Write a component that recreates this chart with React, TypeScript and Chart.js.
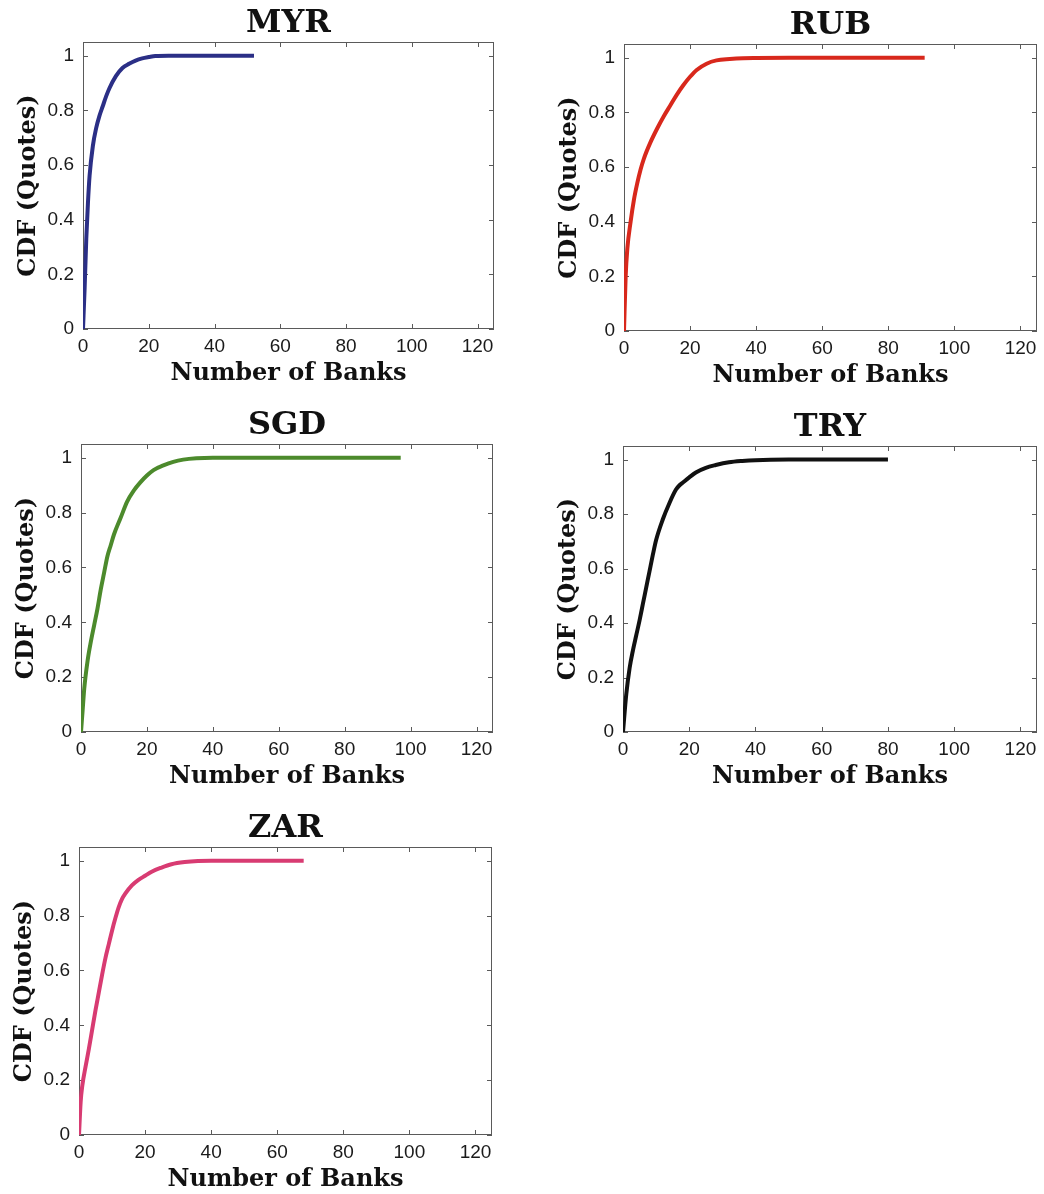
import React, { useEffect, useRef } from "react";
import { Chart, registerables } from "chart.js";

Chart.register(...registerables);

// ---------- data ----------
const X_TICKS = [0, 20, 40, 60, 80, 100, 120];
const X_TICK_LABELS = ["0", "20", "40", "60", "80", "100", "120"];
const Y_TICKS = [0, 0.2, 0.4, 0.6, 0.8, 1];
const Y_TICK_LABELS = ["0", "0.2", "0.4", "0.6", "0.8", "1"];
const X_MAX = 125;
const Y_MAX = 1.05;

const X_LABEL = "Number of Banks";
const Y_LABEL = "CDF (Quotes)";

const MYR_X = [0, 0.5, 1, 1.5, 2, 3, 4, 5, 6, 7, 8, 10, 12, 14, 16, 18, 20, 22, 26, 30, 40, 52];
const MYR_Y = [0, 0.15, 0.33, 0.46, 0.56, 0.67, 0.735, 0.78, 0.815, 0.85, 0.88, 0.925, 0.955, 0.97, 0.982, 0.99, 0.995, 0.999, 1, 1, 1, 1];

const RUB_X = [0, 0.5, 1, 2, 3, 4, 5, 6, 8, 10, 12, 14, 16, 18, 20, 22, 25, 28, 32, 36, 40, 50, 60, 70, 80, 91];
const RUB_Y = [0, 0.2, 0.3, 0.4, 0.48, 0.54, 0.59, 0.63, 0.69, 0.74, 0.785, 0.825, 0.865, 0.9, 0.93, 0.955, 0.978, 0.99, 0.995, 0.998, 0.999, 1, 1, 1, 1, 1];

const SGD_X = [0, 0.5, 1, 2, 3, 4, 5, 6, 7, 8, 9, 10, 12, 14, 16, 18, 20, 22, 25, 28, 31, 35, 40, 50, 60, 70, 80, 97];
const SGD_Y = [0, 0.08, 0.16, 0.26, 0.33, 0.39, 0.45, 0.52, 0.58, 0.64, 0.68, 0.72, 0.78, 0.84, 0.88, 0.91, 0.935, 0.955, 0.972, 0.985, 0.993, 0.998, 1, 1, 1, 1, 1, 1];

const TRY_X = [0, 1, 2, 3, 4, 5, 6, 7, 8, 9, 10, 12, 14, 16, 17, 18, 20, 22, 25, 28, 32, 36, 40, 50, 60, 70, 80];
const TRY_Y = [0, 0.14, 0.235, 0.3, 0.355, 0.41, 0.47, 0.53, 0.59, 0.65, 0.705, 0.78, 0.84, 0.89, 0.905, 0.915, 0.935, 0.953, 0.97, 0.98, 0.99, 0.995, 0.998, 1, 1, 1, 1];

const ZAR_X = [0, 0.5, 1, 2, 3, 4, 5, 6, 7, 8, 9, 10, 11, 12, 13, 14, 16, 18, 20, 22, 25, 28, 32, 36, 40, 50, 60, 68];
const ZAR_Y = [0, 0.12, 0.18, 0.25, 0.315, 0.385, 0.455, 0.52, 0.585, 0.645, 0.695, 0.745, 0.79, 0.83, 0.86, 0.88, 0.91, 0.93, 0.945, 0.96, 0.975, 0.987, 0.995, 0.999, 1, 1, 1, 1];

const SERIES_NAMES = ["MYR", "RUB", "SGD", "TRY", "ZAR"];
const SERIES_X = [MYR_X, RUB_X, SGD_X, TRY_X, ZAR_X];
const SERIES_Y = [MYR_Y, RUB_Y, SGD_Y, TRY_Y, ZAR_Y];

// ---------- layout & style ----------
const COLORS = ["#2b2f86", "#d8281c", "#4c8a2c", "#111111", "#d83b72"];
// plot-area rectangles in page pixels: left, top, right, bottom
const PLOT_RECTS = [
  [83, 42, 494, 329],
  [624, 44, 1037, 331],
  [81, 444, 493, 732],
  [623, 446, 1037, 732],
  [79, 847, 492, 1135],
];
const Y_AXIS_W = 83;
const TITLE_H = 48;
const X_AXIS_H = 56;
const RIGHT_PAD = 20;

const SERIF = "'DejaVu Serif', serif";
const SANS = "'Liberation Sans', Arial, sans-serif";

const framePlugin = {
  id: "matlabFrame",
  beforeDatasetsDraw(chart: any) {
    const { ctx, chartArea: a, scales } = chart;
    const xs = scales.x;
    const ys = scales.y;
    ctx.save();
    ctx.strokeStyle = "#5a5a5a";
    ctx.lineWidth = 1;
    ctx.strokeRect(a.left + 0.5, a.top + 0.5, a.right - a.left - 1, a.bottom - a.top - 1);
    ctx.beginPath();
    const tl = 5;
    X_TICKS.forEach((v) => {
      const px = Math.round(xs.getPixelForValue(v)) + 0.5;
      ctx.moveTo(px, a.bottom);
      ctx.lineTo(px, a.bottom - tl);
      ctx.moveTo(px, a.top);
      ctx.lineTo(px, a.top + tl);
    });
    Y_TICKS.forEach((v) => {
      const py = Math.round(ys.getPixelForValue(v)) + 0.5;
      ctx.moveTo(a.left, py);
      ctx.lineTo(a.left + tl, py);
      ctx.moveTo(a.right, py);
      ctx.lineTo(a.right - tl, py);
    });
    ctx.stroke();
    ctx.restore();
  },
};

function Panel({ idx }: { idx: number }) {
  const ref = useRef<HTMLCanvasElement>(null);
  const [L, T, R, B] = PLOT_RECTS[idx];
  const cw = R - L + Y_AXIS_W + RIGHT_PAD;
  const ch = B - T + TITLE_H + X_AXIS_H;
  const left = L - Y_AXIS_W;
  const top = T - TITLE_H;

  useEffect(() => {
    const xs = SERIES_X[idx];
    const ys = SERIES_Y[idx];
    const data = xs.map((x, i) => ({ x, y: ys[i] }));
    const chart = new Chart(ref.current as HTMLCanvasElement, {
      type: "line",
      data: {
        datasets: [
          {
            label: SERIES_NAMES[idx],
            data,
            borderColor: COLORS[idx],
            backgroundColor: COLORS[idx],
            borderWidth: 4,
            pointRadius: 0,
            cubicInterpolationMode: "monotone",
            borderCapStyle: "butt",
            borderJoinStyle: "round",
            fill: false,
          },
        ],
      },
      options: {
        animation: false,
        responsive: false,
        devicePixelRatio: 1,
        layout: { padding: { left: 0, right: RIGHT_PAD, top: 0, bottom: 0 } },
        plugins: {
          legend: { display: false },
          tooltip: { enabled: false },
          title: {
            display: true,
            text: SERIES_NAMES[idx],
            fullSize: false,
            color: "#111111",
            font: { family: SERIF, size: 32, weight: "bold", lineHeight: 1.0 },
            padding: { top: 14, bottom: 2 },
          },
        },
        scales: {
          x: {
            type: "linear",
            min: 0,
            max: X_MAX,
            afterBuildTicks: (s: any) => {
              s.ticks = X_TICKS.map((v) => ({ value: v }));
            },
            afterFit: (s: any) => {
              s.height = X_AXIS_H;
            },
            grid: { display: false, drawTicks: false },
            border: { display: false },
            ticks: {
              autoSkip: false,
              maxRotation: 0,
              padding: 6,
              color: "#1a1a1a",
              font: { family: SANS, size: 19 },
              callback: (v: any, i: number) => X_TICK_LABELS[i],
            },
            title: {
              display: true,
              text: X_LABEL,
              color: "#111111",
              font: { family: SERIF, size: 24, weight: "bold", lineHeight: 0.9 },
              padding: { top: 0, bottom: 0 },
            },
          },
          y: {
            type: "linear",
            min: 0,
            max: Y_MAX,
            afterBuildTicks: (s: any) => {
              s.ticks = Y_TICKS.map((v) => ({ value: v }));
            },
            afterFit: (s: any) => {
              s.width = Y_AXIS_W;
            },
            grid: { display: false, drawTicks: false },
            border: { display: false },
            ticks: {
              autoSkip: false,
              padding: 9,
              color: "#1a1a1a",
              font: { family: SANS, size: 19 },
              callback: (v: any, i: number) => Y_TICK_LABELS[i],
            },
            title: {
              display: true,
              text: Y_LABEL,
              color: "#111111",
              font: { family: SERIF, size: 24, weight: "bold", lineHeight: 1.0 },
              padding: { top: 17, bottom: 0 },
            },
          },
        },
      },
      plugins: [framePlugin],
    } as any);
    return () => chart.destroy();
  }, [idx]);

  return (
    <div style={{ position: "absolute", left, top, width: cw, height: ch }}>
      <canvas ref={ref} width={cw} height={ch} style={{ width: cw, height: ch, display: "block" }} />
    </div>
  );
}

export default function App() {
  return (
    <div style={{ position: "absolute", left: 0, top: 0, width: 1044, height: 1194, background: "#ffffff" }}>
      {SERIES_NAMES.map((_, i) => (
        <Panel key={i} idx={i} />
      ))}
    </div>
  );
}
